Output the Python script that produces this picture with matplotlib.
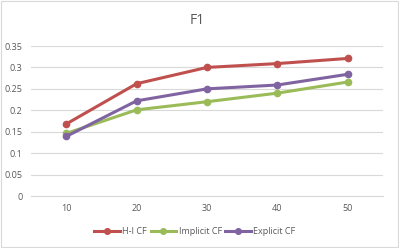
import numpy as np
import matplotlib.pyplot as plt

# 数据
categories = ["10", "20", "30", "40", "50"]
hi_cf = [0.168, 0.262, 0.300, 0.309, 0.321]
implicit_cf = [0.146, 0.201, 0.220, 0.240, 0.266]
explicit_cf = [0.139, 0.222, 0.250, 0.259, 0.284]
series_names = ["H-I CF", "Implicit CF", "Explicit CF"]
y_ticks = [0, 0.05, 0.1, 0.15, 0.2, 0.25, 0.3, 0.35]
y_labels = ["0", "0.05", "0.1", "0.15", "0.2", "0.25", "0.3", "0.35"]

plt.rcParams["font.family"] = ["Open Sans", "DejaVu Sans"]

fig = plt.figure(figsize=(3.99, 2.48), dpi=100)
ax = fig.add_axes([31 / 399, 52 / 248, 352 / 399, 150 / 248])

x = np.arange(len(categories))
colors = ["#C0504D", "#9BBB59", "#8064A2"]
for vals, name, c in zip([hi_cf, implicit_cf, explicit_cf], series_names, colors):
    ax.plot(x, vals, color=c, linewidth=2.2, marker="o", markersize=4.5, label=name)

ax.set_xlim(-0.5, len(categories) - 0.5)
ax.set_ylim(0, 0.35)
ax.set_yticks(y_ticks)
ax.set_yticklabels(y_labels)
ax.set_xticks(x)
ax.set_xticklabels(categories)
ax.grid(axis="y", color="#D9D9D9", linewidth=0.8)
ax.set_axisbelow(True)
for s in ["top", "right", "left"]:
    ax.spines[s].set_visible(False)
ax.spines["bottom"].set_color("#D9D9D9")
ax.tick_params(length=0, labelsize=6.5, colors="#595959", pad=6)

fig.text(197 / 399, 1 - 21 / 248, "F1", ha="center", va="center", fontsize=10, color="#595959")

fig.legend(loc="center", bbox_to_anchor=(195 / 399, 1 - 232 / 248), ncol=3, frameon=False,
           fontsize=6.5, labelcolor="#595959", handlelength=2.8, handletextpad=0.3,
           columnspacing=0.4, markerscale=0.9)

# 外边框
fig.patches.append(plt.Rectangle((0.003, 0.005), 0.994, 0.99, transform=fig.transFigure,
                                 fill=False, edgecolor="#D9D9D9", linewidth=0.8))

fig.savefig("out.png", dpi=100)
